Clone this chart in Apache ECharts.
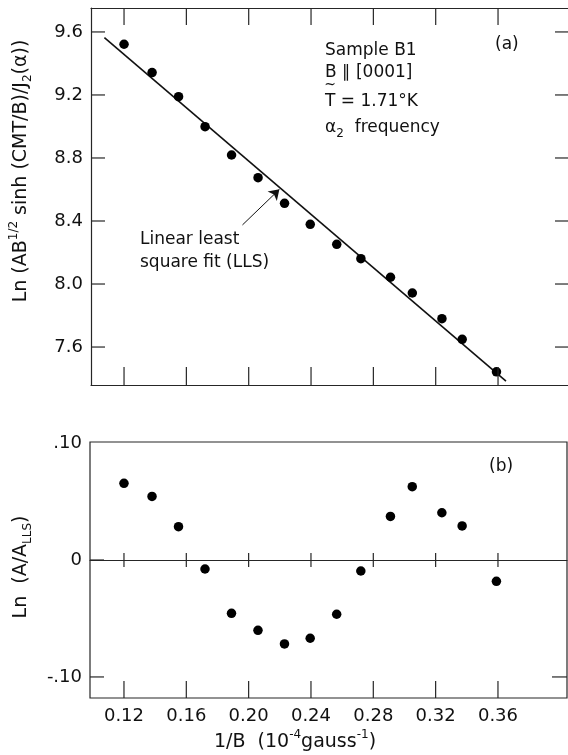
<!DOCTYPE html>
<html><head><meta charset="utf-8">
<script src="https://cdn.jsdelivr.net/npm/echarts@6/dist/echarts.min.js"></script>
<style>html,body{margin:0;padding:0;background:#fff}#c{width:568px;height:755px}</style>
</head><body><div id="c"></div>
<script>
// 1/B (10^-4 gauss^-1)
const invB = [0.120, 0.138, 0.155, 0.172, 0.189, 0.206, 0.223, 0.2395, 0.2565, 0.272, 0.291, 0.305, 0.324, 0.337, 0.359];
// Ln(AB^1/2 sinh(CMT/B)/J2(a))
const lnSignal = [9.522, 9.342, 9.189, 8.999, 8.819, 8.675, 8.512, 8.379, 8.252, 8.161, 8.043, 7.943, 7.780, 7.649, 7.443];
// Ln(A/A_LLS)
const lnResidual = [0.0656, 0.0544, 0.0285, -0.0077, -0.0456, -0.0601, -0.0718, -0.0669, -0.0464, -0.0094, 0.0373, 0.0627, 0.0404, 0.0291, -0.0182];
// linear least square fit end points
const fitX = [0.1074, 0.3651];
const fitY = [9.564, 7.384];
// arrow of the annotation
const arrowFrom = [0.196, 8.375];
const arrowTo = [0.2197, 8.601];
// ticks
const xTicks = [0.12, 0.16, 0.20, 0.24, 0.28, 0.32, 0.36];
const yTicksTop = [7.6, 8.0, 8.4, 8.8, 9.2, 9.6];
const yTicksBottom = [-0.10, 0, 0.10];
const yTickLabelsBottom = ['-.10', '0', '.10'];

// axis ranges
const X_TOP = [0.0988, 0.4049];
const Y_TOP = [7.359, 9.752];
const X_BOT = [0.0982, 0.4043];
const Y_BOT = [-0.118, 0.1009];

const FONT = 'DejaVu Sans';
const INK = '#111';
const AX = '#262626';

const chart = echarts.init(document.getElementById('c'), null, {renderer: 'canvas'});
const lineStyle = {color: AX, width: 1.2};

function axisBase(extra) {
  return Object.assign({
    type: 'value',
    splitLine: {show: false},
    axisTick: {show: false},
    axisLabel: {show: false},
    axisLine: {show: false, onZero: false}
  }, extra);
}

const tickText = {fontFamily: FONT, fontSize: 18, color: INK};

const texts = [
  {type: 'text', x: 21, y: 171, rotation: Math.PI / 2, style: {
    text: '{n|Ln (AB}{sup|1/2}{n| sinh (CMT/B)/J}{sub|2}{n|(α))}',
    align: 'center', verticalAlign: 'middle', fill: INK,
    rich: {
      n: {fontFamily: FONT, fontSize: 19, lineHeight: 26, verticalAlign: 'middle', fill: INK},
      sup: {fontFamily: FONT, fontSize: 12, lineHeight: 13, verticalAlign: 'top', fill: INK},
      sub: {fontFamily: FONT, fontSize: 12, lineHeight: 13, verticalAlign: 'bottom', fill: INK}
    }}},
  {type: 'text', x: 21, y: 567, rotation: Math.PI / 2, style: {
    text: '{n|Ln  (A/A}{sub|LLS}{n|)}',
    align: 'center', verticalAlign: 'middle', fill: INK,
    rich: {
      n: {fontFamily: FONT, fontSize: 19, lineHeight: 26, verticalAlign: 'middle', fill: INK},
      sub: {fontFamily: FONT, fontSize: 12, lineHeight: 13, verticalAlign: 'bottom', fill: INK}
    }}},
  {type: 'text', x: 295, y: 742, style: {
    text: '{n|1/B  (10}{sup|-4}{n|gauss}{sup|-1}{n|)}',
    align: 'center', verticalAlign: 'middle', fill: INK,
    rich: {
      n: {fontFamily: FONT, fontSize: 19, lineHeight: 26, verticalAlign: 'middle', fill: INK},
      sup: {fontFamily: FONT, fontSize: 12, lineHeight: 13, verticalAlign: 'top', fill: INK}
    }}},
  {type: 'text', x: 325, y: 51, style: {text: 'Sample B1', fontFamily: FONT, fontSize: 17, fill: INK, align: 'left', verticalAlign: 'middle'}},
  {type: 'text', x: 325, y: 73, style: {text: 'B ∥ [0001]', fontFamily: FONT, fontSize: 17, fill: INK, align: 'left', verticalAlign: 'middle'}},
  {type: 'text', x: 330, y: 85, style: {text: '~', fontFamily: FONT, fontSize: 14, fill: INK, align: 'center', verticalAlign: 'middle'}},
  {type: 'text', x: 325, y: 102, style: {text: 'T = 1.71°K', fontFamily: FONT, fontSize: 17, fill: INK, align: 'left', verticalAlign: 'middle'}},
  {type: 'text', x: 325, y: 128, style: {
    text: '{n|α}{sub|2}{n|  frequency}', align: 'left', verticalAlign: 'middle', fill: INK,
    rich: {
      n: {fontFamily: FONT, fontSize: 17, lineHeight: 24, verticalAlign: 'middle', fill: INK},
      sub: {fontFamily: FONT, fontSize: 12, lineHeight: 13, verticalAlign: 'bottom', fill: INK}
    }}},
  {type: 'text', x: 495, y: 45, style: {text: '(a)', fontFamily: FONT, fontSize: 17, fill: INK, align: 'left', verticalAlign: 'middle'}},
  {type: 'text', x: 489, y: 467, style: {text: '(b)', fontFamily: FONT, fontSize: 17, fill: INK, align: 'left', verticalAlign: 'middle'}},
  {type: 'text', x: 140, y: 240, style: {text: 'Linear least', fontFamily: FONT, fontSize: 17, fill: INK, align: 'left', verticalAlign: 'middle'}},
  {type: 'text', x: 140, y: 263, style: {text: 'square fit (LLS)', fontFamily: FONT, fontSize: 17, fill: INK, align: 'left', verticalAlign: 'middle'}}
];

const option = {
  animation: false,
  backgroundColor: '#fff',
  grid: [
    {left: 91, top: 8, right: 0, height: 377, show: false},
    {left: 90, top: 442, right: 1, height: 256, show: true, borderColor: AX, borderWidth: 1.2}
  ],
  xAxis: [
    axisBase({gridIndex: 0, min: X_TOP[0], max: X_TOP[1], position: 'bottom',
      axisLine: {show: true, onZero: false, lineStyle}}),
    axisBase({gridIndex: 0, min: X_TOP[0], max: X_TOP[1], position: 'top',
      axisLine: {show: true, onZero: false, lineStyle}}),
    axisBase({gridIndex: 1, min: X_BOT[0], max: X_BOT[1], position: 'bottom',
      axisLabel: Object.assign({show: true, customValues: xTicks, formatter: v => v.toFixed(2), margin: 9}, tickText)}),
    axisBase({gridIndex: 1, min: X_BOT[0], max: X_BOT[1], position: 'top',
      axisLine: {show: true, onZero: true, lineStyle}})
  ],
  yAxis: [
    axisBase({gridIndex: 0, min: Y_TOP[0], max: Y_TOP[1], position: 'left',
      axisLine: {show: true, onZero: false, lineStyle},
      axisLabel: Object.assign({show: true, customValues: yTicksTop, formatter: v => v.toFixed(1), margin: 8}, tickText)}),
    axisBase({gridIndex: 0, min: Y_TOP[0], max: Y_TOP[1], position: 'right'}),
    axisBase({gridIndex: 1, min: Y_BOT[0], max: Y_BOT[1], position: 'left',
      axisLabel: Object.assign({show: true, customValues: yTicksBottom,
        formatter: v => yTickLabelsBottom[yTicksBottom.findIndex(t => Math.abs(t - v) < 1e-6)], margin: 8}, tickText)}),
    axisBase({gridIndex: 1, min: Y_BOT[0], max: Y_BOT[1], position: 'right'})
  ],
  series: [
    {
      type: 'line', xAxisIndex: 0, yAxisIndex: 0,
      data: fitX.map((x, i) => [x, fitY[i]]),
      symbol: 'none', lineStyle: {color: INK, width: 1.6}, silent: true, z: 2
    },
    {
      type: 'scatter', xAxisIndex: 0, yAxisIndex: 0,
      data: invB.map((x, i) => [x, lnSignal[i]]),
      symbol: 'circle', symbolSize: 9.5, itemStyle: {color: '#000', opacity: 1}, z: 3,
      markLine: {
        silent: true, animation: false,
        symbol: ['none', 'arrow'], symbolSize: 10,
        lineStyle: {color: INK, width: 1, type: 'solid', curveness: 0.1},
        label: {show: false},
        data: [[{coord: arrowFrom}, {coord: arrowTo}]]
      }
    },
    {
      type: 'scatter', xAxisIndex: 2, yAxisIndex: 2,
      data: invB.map((x, i) => [x, lnResidual[i]]),
      symbol: 'circle', symbolSize: 9.5, itemStyle: {color: '#000', opacity: 1}, z: 3
    }
  ],
  graphic: texts
};
chart.setOption(option);

// tick marks: positions come from the axes' own scales via convertToPixel
function toPx(axisIdx, xv, yv) {
  return chart.convertToPixel({xAxisIndex: axisIdx, yAxisIndex: axisIdx}, [xv, yv]);
}
// dx/dy: pixel extent of the mark from the anchor point [d0, d1]
function ticks(axisIdx, values, dim, anchor, d0, d1) {
  return values.map(v => {
    const p = dim === 'x' ? toPx(axisIdx, v, anchor) : toPx(axisIdx, anchor, v);
    const shape = dim === 'x'
      ? {x1: p[0], y1: p[1] + d0, x2: p[0], y2: p[1] + d1}
      : {x1: p[0] + d0, y1: p[1], x2: p[0] + d1, y2: p[1]};
    return {type: 'line', silent: true, z: 100, shape, style: {stroke: AX, lineWidth: 1.2}};
  });
}
const tickMarks = [].concat(
  ticks(0, xTicks, 'x', Y_TOP[0], 0, -18),
  ticks(0, xTicks, 'x', Y_TOP[1], 0, 17),
  ticks(0, yTicksTop, 'y', X_TOP[0], 0, 14),
  ticks(0, yTicksTop, 'y', X_TOP[1], 0, -13),
  ticks(2, xTicks, 'x', Y_BOT[0], 0, -17),
  ticks(2, xTicks, 'x', 0, -7, 7),
  ticks(2, [yTicksBottom[0], yTicksBottom[1]], 'y', X_BOT[0], 0, 14),
  ticks(2, [yTicksBottom[0]], 'y', X_BOT[1], 0, -15)
);
chart.setOption({graphic: texts.concat(tickMarks)});
</script>
</body></html>
